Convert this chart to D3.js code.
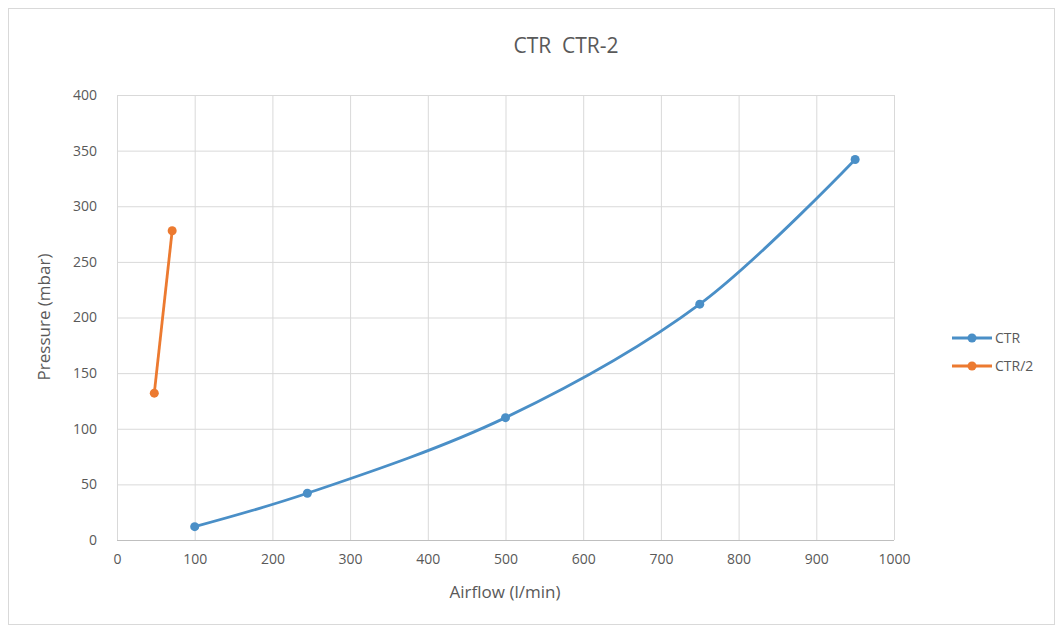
<!DOCTYPE html>
<html lang="en">
<head>
<meta charset="utf-8">
<title>CTR CTR-2</title>
<style>
  body { margin: 0; background: #fff; }
  svg text { font-family: "Open Sans", sans-serif; fill: #595959; white-space: pre; }
  .grid line { stroke: #d9d9d9; stroke-width: 1; }
  .axis path, .axis line { display: none; }
</style>
</head>
<body>
<svg id="chart" width="1063" height="633"></svg>
<script src="https://cdnjs.cloudflare.com/ajax/libs/d3/7.8.5/d3.min.js"></script>
<script>
"use strict";

// data
var ctrAirflow = [100, 245, 500, 750, 950];
var ctrPressure = [12, 42, 110, 212, 342];
var ctr2Airflow = [48, 71];
var ctr2Pressure = [132, 278];
var xTicks = [0, 100, 200, 300, 400, 500, 600, 700, 800, 900, 1000];
var yTicks = [0, 50, 100, 150, 200, 250, 300, 350, 400];

var series = [
  { name: "CTR", color: "#4a8fc7", curve: d3.curveCatmullRom.alpha(0.5),
    pts: ctrAirflow.map(function(d, i){ return [d, ctrPressure[i]]; }) },
  { name: "CTR/2", color: "#ec7a30", curve: d3.curveLinear,
    pts: ctr2Airflow.map(function(d, i){ return [d, ctr2Pressure[i]]; }) }
];

var svg = d3.select("#chart");
var pLeft = 117, pRight = 894, pTop = 95, pBottom = 540;

var x = d3.scaleLinear().domain([0, 1000]).range([pLeft, pRight]);
var y = d3.scaleLinear().domain([0, 400]).range([pBottom, pTop]);

// chart border
svg.append("rect").attr("x", 8.5).attr("y", 8.5).attr("width", 1046).attr("height", 616)
  .attr("fill", "#fff").attr("stroke", "#d9d9d9");

// gridlines
svg.append("g").attr("class", "grid")
  .selectAll("line").data(xTicks).enter().append("line")
  .attr("x1", function(d){ return x(d) + 0.5; }).attr("x2", function(d){ return x(d) + 0.5; })
  .attr("y1", pTop).attr("y2", pBottom);
svg.append("g").attr("class", "grid")
  .selectAll("line").data(yTicks).enter().append("line")
  .attr("y1", function(d){ return y(d) + 0.5; }).attr("y2", function(d){ return y(d) + 0.5; })
  .attr("x1", pLeft).attr("x2", pRight)
  .style("stroke", function(d){ return d === 0 ? "#bfbfbf" : null; });

// axes (labels only)
svg.append("g").attr("class", "axis")
  .attr("transform", "translate(0," + (pBottom + 8) + ")")
  .call(d3.axisBottom(x).tickValues(xTicks).tickFormat(d3.format("d")).tickSize(0).tickPadding(6));
svg.append("g").attr("class", "axis")
  .attr("transform", "translate(" + (pLeft - 14) + ",0)")
  .call(d3.axisLeft(y).tickValues(yTicks).tickFormat(d3.format("d")).tickSize(0).tickPadding(6));
svg.selectAll(".axis text").style("fill", "#595959").style("font-size", "14px");
svg.selectAll(".axis").attr("font-family", null);

// titles
svg.append("text").attr("x", 566).attr("y", 53).attr("text-anchor", "middle")
  .style("font-size", "21px").text("CTR  CTR-2");
svg.append("text").attr("x", 505).attr("y", 598).attr("text-anchor", "middle")
  .style("font-size", "17px").text("Airflow (l/min)");
svg.append("text").attr("transform", "translate(50,317) rotate(-90)").attr("text-anchor", "middle")
  .style("font-size", "17px").text("Pressure (mbar)");

// lines and markers
var line = d3.line().x(function(d){ return x(d[0]); }).y(function(d){ return y(d[1]); });
series.forEach(function(s){
  svg.append("path").datum(s.pts)
    .attr("d", line.curve(s.curve))
    .attr("fill", "none").attr("stroke", s.color).attr("stroke-width", 2.8);
  svg.append("g").selectAll("circle").data(s.pts).enter().append("circle")
    .attr("cx", function(d){ return x(d[0]); })
    .attr("cy", function(d){ return y(d[1]); })
    .attr("r", 4.5).attr("fill", s.color);
});

// legend
var legend = svg.append("g").selectAll("g").data(series).enter().append("g")
  .attr("transform", function(d, i){ return "translate(952," + (338 + i * 28) + ")"; });
legend.append("line").attr("x1", 0).attr("x2", 40)
  .attr("stroke", function(d){ return d.color; }).attr("stroke-width", 2.8);
legend.append("circle").attr("cx", 20).attr("r", 4.5).attr("fill", function(d){ return d.color; });
legend.append("text").attr("x", 43).attr("dy", "0.35em").style("font-size", "14px")
  .text(function(d){ return d.name; });
</script>
</body>
</html>
